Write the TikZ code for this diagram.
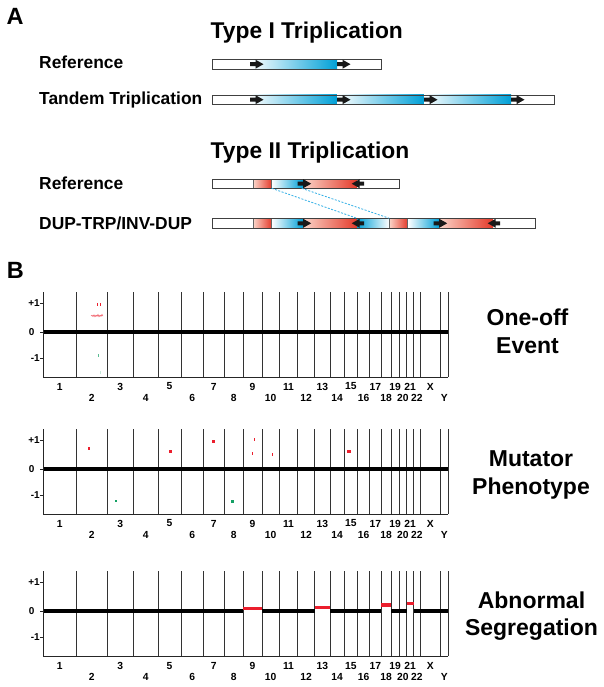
\documentclass[tikz,border=0pt]{standalone}
\usepackage{fontspec}
\setmainfont{Liberation Sans}
\definecolor{cyanA}{RGB}{0,160,215}
\definecolor{redA}{RGB}{228,58,42}
\definecolor{pinkA}{RGB}{250,212,200}
\definecolor{dashc}{RGB}{50,175,230}
\definecolor{mred}{RGB}{235,30,45}
\definecolor{mgreen}{RGB}{20,160,100}
\tikzset{
  lbl/.style={font=\bfseries\fontsize{17.4}{20}\selectfont, anchor=base west, inner sep=0},
  ttl/.style={font=\bfseries\fontsize{22.8}{26}\selectfont, anchor=base west, inner sep=0},
  panel/.style={font=\bfseries\fontsize{23.5}{26}\selectfont, anchor=base west, inner sep=0},
  side/.style={font=\bfseries\fontsize{23}{26}\selectfont, anchor=base, inner sep=0},
  chr/.style={font=\bfseries\fontsize{10.3}{12}\selectfont, inner sep=0},
  ticklbl/.style={font=\bfseries\fontsize{10}{12}\selectfont, inner sep=0},
  barline/.style={draw=black!75, line width=0.8pt},
  segline/.style={draw=black!60, line width=0.6pt},
  chrline/.style={draw=black!80, line width=0.75pt},
  axisline/.style={draw=black!85, line width=0.9pt},
  zeroline/.style={draw=black, line width=3.3pt},
  gainline/.style={draw=mred, line width=3.2pt},
  link/.style={draw=dashc, line width=0.8pt, dash pattern=on 2pt off 1.5pt},
  rarr/.pic={\fill[black!90] (0,-2)--(5.5,-2)--(5.5,-4.5)--(13.5,0)--(5.5,4.5)--(5.5,2)--(0,2)--cycle;},
  larr/.pic={\fill[black!90] (0,0)--(8,-4.5)--(8,-2)--(12.5,-2)--(12.5,2)--(8,2)--(8,4.5)--cycle;}
}
\begin{document}
\begin{tikzpicture}[x=1pt,y=-1pt]
\useasboundingbox[fill=white] (0,0) rectangle (603,687);
% ---------- Panel A ----------
\node[panel] (A) at (6.5,25) {A};
\node[ttl] (t1) at (210.5,38.5) {Type I Triplication};
\node[lbl] (r1) at (39,68.3) {Reference};
\node[lbl] (tt) at (39,105) {Tandem Triplication};
\node[ttl] (t2) at (210.5,158.3) {Type II Triplication};
\node[lbl] (r2) at (39,189) {Reference};
\node[lbl] (dup) at (39,229) {DUP-TRP/INV-DUP};
% Type I reference bar
\fill[white] (212.3,59.3) rectangle (381.7,69);
\shade[left color=white,right color=cyanA] (250,59.3) rectangle (337,69);
\draw[barline] (212.3,59.3) rectangle (381.7,69);
\pic at (250,64.2) {rarr};
\pic at (337,64.2) {rarr};
% Tandem bar
\fill[white] (212.3,95) rectangle (554.6,104.3);
\foreach \s in {250,337,424}{
  \shade[left color=white,right color=cyanA] (\s,95) rectangle (\s+87,104.3);
}
\draw[barline] (212.3,95) rectangle (554.6,104.3);
\foreach \s in {250,337,424,511}{ \pic at (\s,99.7) {rarr}; }
% Type II reference bar
\fill[white] (212.3,179) rectangle (399,188.3);
\shade[left color=pinkA,right color=redA] (253.3,179) rectangle (271.7,188.3);
\shade[left color=white,right color=cyanA] (271.7,179) rectangle (303,188.3);
\shade[left color=pinkA,right color=redA] (303,179) rectangle (357,188.3);
\draw[segline] (253.3,179) -- (253.3,188.3) (271.7,179) -- (271.7,188.3);
\draw[barline] (212.3,179) rectangle (399,188.3);
\pic at (297.7,183.7) {rarr};
\pic at (351.7,183.7) {larr};
% DUP-TRP/INV-DUP bar
\fill[white] (212.3,218.3) rectangle (535,228.3);
\shade[left color=pinkA,right color=redA] (253.3,218.3) rectangle (271.7,228.3);
\shade[left color=white,right color=cyanA] (271.7,218.3) rectangle (303,228.3);
\shade[left color=pinkA,right color=redA] (303,218.3) rectangle (357,228.3);
\shade[left color=cyanA,right color=white] (357,218.3) rectangle (389.3,228.3);
\shade[left color=pinkA,right color=redA] (389.3,218.3) rectangle (407.7,228.3);
\shade[left color=white,right color=cyanA] (407.7,218.3) rectangle (439,228.3);
\shade[left color=pinkA,right color=redA] (439,218.3) rectangle (493,228.3);
\draw[segline] (253.3,218.3) -- (253.3,228.3) (271.7,218.3) -- (271.7,228.3)
  (389.3,218.3) -- (389.3,228.3) (407.7,218.3) -- (407.7,228.3);
\draw[barline] (212.3,218.3) rectangle (535,228.3);
\pic at (297.7,223.3) {rarr};
\pic at (351.7,223.3) {larr};
\pic at (433.7,223.3) {rarr};
\pic at (487.7,223.3) {larr};
% dashed links
\coordinate (l1a) at (271.7,188.3);
\coordinate (l1b) at (357,218.3);
\coordinate (l2a) at (301.7,188.3);
\coordinate (l2b) at (389.3,218.3);
\draw[link] (l1a) -- (l1b);
\draw[link] (l2a) -- (l2b);
% ---------- Panel B ----------
\node[panel] (B) at (6.7,278) {B};
\foreach \T in {292,429,571}{
  \foreach \b in {76,107.3,133.3,158,181,203.3,224.3,243,262,279.3,297.7,314.7,330,344,357.7,369.5,381,391,399,406.7,413.5,420.3,440.3,448.3}{
    \draw[chrline] (\b,\T) -- (\b,\T+85);
  }
  \foreach \lab/\cx/\row in {1/59.7/0,2/91.7/1,3/120.3/0,4/145.7/1,5/169.5/0,6/192.2/1,7/213.8/0,8/233.7/1,9/252.5/0,10/270.7/1,11/288.5/0,12/306.2/1,13/322.4/0,14/337/1,15/350.9/0,16/363.6/1,17/375.3/0,18/386/1,19/395/0,20/402.9/1,21/410.1/0,22/416.9/1,X/430.3/0,Y/444.3/1}{
    \node[chr] (c\lab-\T) at (\cx,\T+94.5+\row*11.5) {\lab};
  }
  \draw[axisline] (40,\T+11) -- (43.3,\T+11) (40,\T+40) -- (43.3,\T+40) (40,\T+66) -- (43.3,\T+66);
  \node[ticklbl,anchor=east] (tp\T) at (40,\T+11) {+1};
  \node[ticklbl] (tz\T) at (31.7,\T+40) {0};
  \node[ticklbl,anchor=east] (tm\T) at (40,\T+66) {-1};
}
% zero lines
\draw[zeroline] (43.3,332) -- (448.3,332);
\draw[zeroline] (43.3,469) -- (448.3,469);
\draw[zeroline] (43.3,611) -- (243,611);
\draw[zeroline] (262,611) -- (314.7,611);
\draw[zeroline] (330,611) -- (381,611);
\draw[zeroline] (391,611) -- (406.7,611);
\draw[zeroline] (413.5,611) -- (448.3,611);
\draw[gainline] (243,608.3) -- (262,608.3);
\draw[gainline] (314.7,607.3) -- (330,607.3);
\draw[gainline] (381,605) -- (391,605);
\draw[gainline] (406.7,603.3) -- (413.5,603.3);
% axes
\foreach \T in {292,429,571}{
  \draw[axisline] (43.3,\T) -- (43.3,\T+85) -- (448.3,\T+85);
}
% markers plot 1
\fill[mred] (96.8,302.5) rectangle (97.6,305.5);
\fill[mred] (99.6,302.5) rectangle (100.4,305.5);
\draw[mred!85, line width=0.45pt] (91,316) -- (92,315.2) -- (93,316.6) -- (94,314.8) -- (95,316.8) -- (96,315.2) -- (97,316.4) -- (98,314.4) -- (99,316.8) -- (100,315.2) -- (101,316.4) -- (102,314.4) -- (103,316);
\fill[mgreen!70] (98,353.5) rectangle (99,356.5);
\fill[mgreen!25] (100.3,371) rectangle (101,373.5);
% markers plot 2
\fill[mred] (88,446.5) rectangle (89.5,449.5);
\fill[mred] (168.5,449.5) rectangle (171.5,452.5);
\fill[mred] (211.8,439.5) rectangle (214.8,442.5);
\fill[mred] (253.6,437.8) rectangle (254.9,440.8);
\fill[mred] (251.6,451.8) rectangle (252.9,454.8);
\fill[mred] (272,453) rectangle (273.3,456);
\fill[mred] (347.3,449.5) rectangle (350.7,452.5);
\fill[mgreen] (115,499.5) rectangle (116.5,502);
\fill[mgreen] (231.2,500.2) rectangle (234.2,503.2);
% right labels
\node[side] (e1a) at (527.5,325) {One-off};
\node[side] (e1b) at (527.5,353) {Event};
\node[side] (e2a) at (531,466.7) {Mutator};
\node[side] (e2b) at (531,494.5) {Phenotype};
\node[side] (e3a) at (531.5,608.3) {Abnormal};
\node[side] (e3b) at (531.5,635) {Segregation};
\end{tikzpicture}
\end{document}
